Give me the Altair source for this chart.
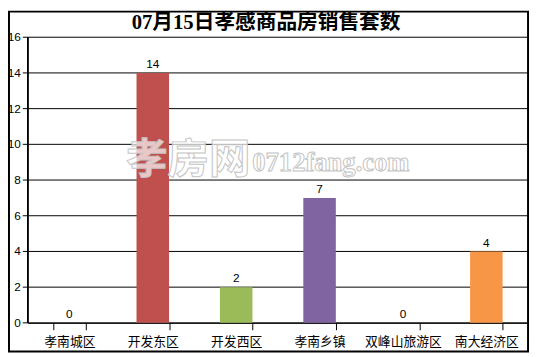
import altair as alt
import pandas as pd

categories = ["孝南城区", "开发东区", "开发西区", "孝南乡镇", "双峰山旅游区", "南大经济区"]
values = [0, 14, 2, 7, 0, 4]
colors = ["#4F81BD", "#C0504D", "#9BBB59", "#8064A2", "#4BACC6", "#F79646"]
title_text = "07月15日孝感商品房销售套数"
y_ticks = [0, 2, 4, 6, 8, 10, 12, 14, 16]

df = pd.DataFrame({"cat": categories, "val": values, "color": colors})
ticks_df = pd.DataFrame({"v": y_ticks})

W, H = 508, 290

y_scale = alt.Scale(domain=[0, 16], nice=False, zero=True)

x_enc = alt.X("cat:N", sort=categories, scale=alt.Scale(paddingInner=0.61, paddingOuter=0.305),
              axis=alt.Axis(title=None, labelAngle=0, labelFont="Noto Sans CJK SC", labelFontSize=13,
                            labelColor="black", labelPadding=6, tickBand="extent", tickSize=7,
                            tickColor="black", domainColor="black", domainWidth=1, grid=False))
y_enc = alt.Y("val:Q", scale=y_scale, axis=None)

grid = alt.Chart(ticks_df).mark_rule(color="black", strokeWidth=1).encode(
    y=alt.Y("v:Q", scale=y_scale, axis=None), x=alt.value(-5), x2=alt.value(W))
ylabels = alt.Chart(ticks_df).mark_text(align="right", baseline="middle", fontSize=12,
                                        font="Liberation Sans", color="black").encode(
    y=alt.Y("v:Q", scale=y_scale, axis=None), x=alt.value(-7), text="v:Q")
ydomain = alt.Chart(ticks_df).mark_rule(color="black", strokeWidth=1).encode(
    x=alt.value(0), y=alt.value(0), y2=alt.value(H))

bars = alt.Chart(df).mark_bar().encode(
    x=x_enc, y=y_enc, color=alt.Color("color:N", scale=None)
)
labels = alt.Chart(df).mark_text(dy=-9, fontSize=12, font="Liberation Sans", color="black").encode(
    x=x_enc, y=y_enc, text="val:Q"
)

wm = pd.DataFrame({"t": ["孝房网"]})
wm2 = pd.DataFrame({"t": ["0712fang.com"]})
water1 = alt.Chart(wm).mark_text(fontSize=42, font="Noto Sans CJK SC", fontWeight="bold",
                                 fill="white", fillOpacity=0.7, stroke="#c4c4c4", strokeWidth=1,
                                 align="left", baseline="middle").encode(
    text="t:N", x=alt.value(100), y=alt.value(125))
water2 = alt.Chart(wm2).mark_text(fontSize=27, font="Liberation Serif", fontWeight="bold",
                                  fill="white", fillOpacity=0.7, stroke="#c4c4c4", strokeWidth=1,
                                  align="left", baseline="middle").encode(
    text="t:N", x=alt.value(228), y=alt.value(128))

border = alt.Chart(wm).mark_rect(fill=None, stroke="black", strokeWidth=2).encode(
    x=alt.value(-19), x2=alt.value(508), y=alt.value(-26), y2=alt.value(319))

title_df = pd.DataFrame({"t": [title_text]})
title = alt.Chart(title_df).mark_text(fontSize=21, font="Liberation Serif, Noto Sans CJK SC",
                                      fontWeight="bold", color="black", baseline="middle").encode(
    text="t:N", x=alt.value(242), y=alt.value(-14))

chart = alt.layer(grid, ydomain, ylabels, bars, labels, water1, water2, border, title).properties(
    width=W, height=H,
    autosize=alt.AutoSizeParams(type="none"),
    padding={"left": 20, "top": 27, "right": 3, "bottom": 32},
    background="white",
).configure_view(stroke=None)

chart.save("out.html", embed_options={"renderer": "svg", "actions": False})
